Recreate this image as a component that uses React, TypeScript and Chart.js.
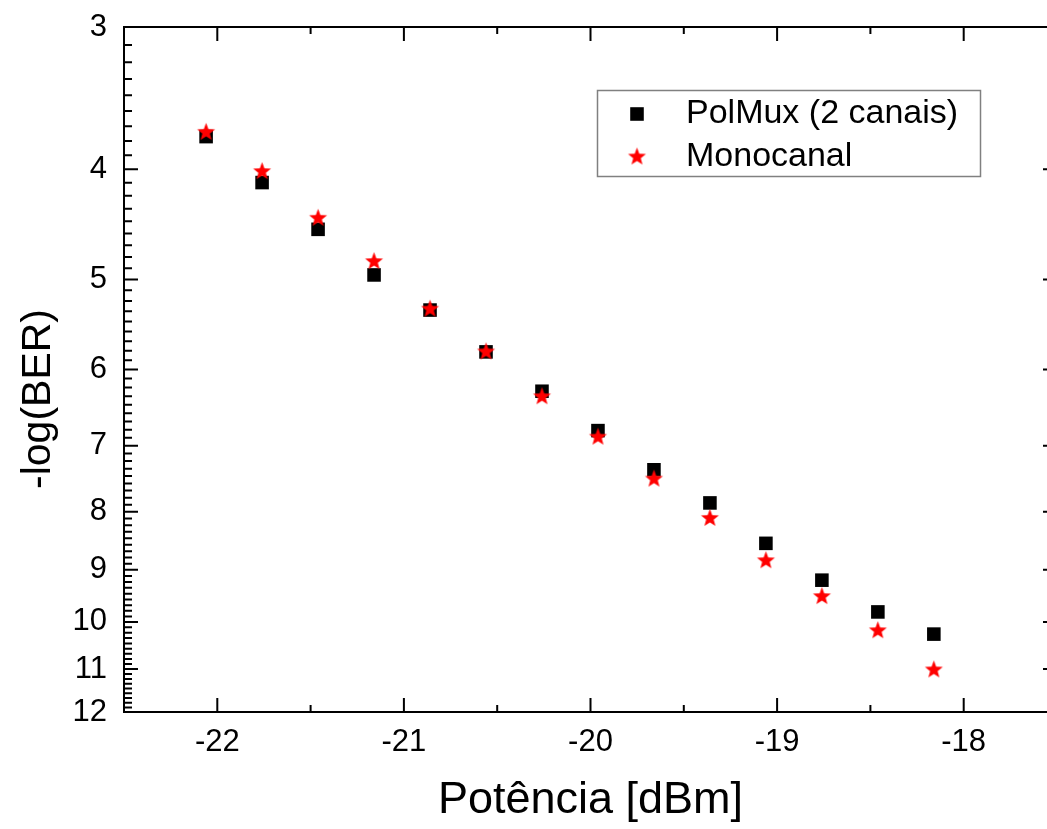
import React, { useEffect, useRef } from "react";
import { Chart, registerables } from "chart.js";

Chart.register(...registerables);

// ---- data ----
const POWER_DBM = [-22.06, -21.76, -21.46, -21.16, -20.86, -20.56, -20.26, -19.96, -19.66, -19.36, -19.06, -18.76, -18.46, -18.16];
const POLMUX = [3.745, 4.11, 4.518, 4.955, 5.32, 5.79, 6.27, 6.79, 7.35, 7.86, 8.53, 9.19, 9.8, 10.25];
const MONOCANAL = [3.713, 4.02, 4.418, 4.823, 5.31, 5.79, 6.34, 6.88, 7.49, 8.11, 8.835, 9.5, 10.18, 11.02];
const SERIES_LABELS = ["PolMux (2 canais)", "Monocanal"];
const X_TICKS = [-22, -21, -20, -19, -18];
const Y_TICKS = [3, 4, 5, 6, 7, 8, 9, 10, 11, 12];
const X_RANGE = [-22.5, -17.5];
const Y_RANGE = [3, 12];
const Y_MINOR_PER_MAJOR = 8;
const X_TITLE = "Potência [dBm]";
const Y_TITLE = "-log(BER)";

const FONT = "'Liberation Sans', Arial, Helvetica, sans-serif";
const CANVAS_W = 1080;
const CANVAS_H = 829;

function makeStar(R: number, color: string): HTMLCanvasElement {
  const size = Math.ceil(R * 2 + 4);
  const c = document.createElement("canvas");
  c.width = size;
  c.height = size;
  const g = c.getContext("2d")!;
  const cx = size / 2;
  const cy = size / 2;
  const r = R * 0.42;
  g.beginPath();
  for (let i = 0; i < 10; i++) {
    const ang = -Math.PI / 2 + (i * Math.PI) / 5;
    const rad = i % 2 === 0 ? R : r;
    const x = cx + rad * Math.cos(ang);
    const y = cy + rad * Math.sin(ang);
    if (i === 0) g.moveTo(x, y);
    else g.lineTo(x, y);
  }
  g.closePath();
  g.fillStyle = color;
  g.fill();
  return c;
}

export default function App() {
  const ref = useRef<HTMLCanvasElement | null>(null);

  useEffect(() => {
    if (!ref.current) return;
    const star = makeStar(9.4, "#ff0000");
    const SQUARE_R = 9.6;

    const framePlugin = {
      id: "frameTicksLegend",
      afterDraw(chart: any) {
        const { ctx, chartArea: a, scales } = chart;
        const xs = scales.x;
        const ys = scales.y;
        ctx.save();
        ctx.strokeStyle = "#000";
        ctx.lineWidth = 2;
        ctx.strokeRect(a.left, a.top, a.right - a.left, a.bottom - a.top);

        ctx.beginPath();
        // x major ticks (bottom and top), inward
        X_TICKS.forEach((v) => {
          const p = xs.getPixelForValue(v);
          ctx.moveTo(p, a.bottom);
          ctx.lineTo(p, a.bottom - 14);
          ctx.moveTo(p, a.top);
          ctx.lineTo(p, a.top + 14);
        });
        // x minor ticks
        for (let i = 0; i < X_TICKS.length - 1; i++) {
          const p = xs.getPixelForValue((X_TICKS[i] + X_TICKS[i + 1]) / 2);
          ctx.moveTo(p, a.bottom);
          ctx.lineTo(p, a.bottom - 7);
          ctx.moveTo(p, a.top);
          ctx.lineTo(p, a.top + 7);
        }
        // y major ticks (left and right)
        Y_TICKS.forEach((v) => {
          const p = ys.getPixelForValue(v);
          ctx.moveTo(a.left, p);
          ctx.lineTo(a.left + 14, p);
          ctx.moveTo(a.right, p);
          ctx.lineTo(a.right - 14, p);
        });
        // y minor ticks
        for (let i = 0; i < Y_TICKS.length - 1; i++) {
          const step = (Y_TICKS[i + 1] - Y_TICKS[i]) / (Y_MINOR_PER_MAJOR + 1);
          for (let k = 1; k <= Y_MINOR_PER_MAJOR; k++) {
            const p = ys.getPixelForValue(Y_TICKS[i] + k * step);
            ctx.moveTo(a.left, p);
            ctx.lineTo(a.left + 8, p);
            ctx.moveTo(a.right, p);
            ctx.lineTo(a.right - 8, p);
          }
        }
        ctx.lineWidth = 2;
        ctx.stroke();

        // y title
        ctx.save();
        ctx.translate(50, 399);
        ctx.rotate(-Math.PI / 2);
        ctx.font = `41px ${FONT}`;
        ctx.fillStyle = "#000";
        ctx.textAlign = "center";
        ctx.textBaseline = "alphabetic";
        ctx.fillText(Y_TITLE, 0, 0);
        ctx.restore();

        // legend
        const bx = 597.5, by = 90.5, bw = 383, bh = 86;
        ctx.fillStyle = "#fff";
        ctx.fillRect(bx, by, bw, bh);
        ctx.strokeStyle = "#808080";
        ctx.lineWidth = 1.5;
        ctx.strokeRect(bx, by, bw, bh);
        const ds = chart.data.datasets;
        const mx = 637;
        const rows = [114, 157];
        const s = SQUARE_R * Math.SQRT1_2;
        ctx.fillStyle = "#000";
        ctx.fillRect(mx - s, rows[0] - s, 2 * s, 2 * s);
        ctx.drawImage(star, mx - star.width / 2, rows[1] - star.height / 2);
        ctx.font = `34px ${FONT}`;
        ctx.fillStyle = "#000";
        ctx.textAlign = "left";
        ctx.textBaseline = "middle";
        ctx.fillText(ds[0].label, 686, rows[0]);
        ctx.fillText(ds[1].label, 686, rows[1]);
        ctx.restore();
      },
    };

    const chart = new Chart(ref.current, {
      type: "scatter",
      data: {
        datasets: [
          {
            label: SERIES_LABELS[0],
            data: POWER_DBM.map((x, i) => ({ x, y: POLMUX[i] })),
            pointStyle: "rect",
            pointRadius: SQUARE_R,
            pointHoverRadius: SQUARE_R,
            backgroundColor: "#000",
            borderColor: "#000",
            borderWidth: 0,
            showLine: false,
            order: 1,
          },
          {
            label: SERIES_LABELS[1],
            data: POWER_DBM.map((x, i) => ({ x, y: MONOCANAL[i] })),
            pointStyle: star,
            pointRadius: 9,
            pointHoverRadius: 9,
            backgroundColor: "#ff0000",
            borderColor: "#ff0000",
            borderWidth: 0,
            showLine: false,
            order: 0,
          },
        ],
      },
      options: {
        animation: false,
        responsive: false,
        devicePixelRatio: 1,
        layout: { padding: { top: 27, right: CANVAS_W - 1057, left: 0, bottom: 0 } },
        plugins: {
          legend: { display: false },
          tooltip: { enabled: false },
        },
        scales: {
          x: {
            type: "linear",
            min: X_RANGE[0],
            max: X_RANGE[1],
            afterBuildTicks: (scale: any) => {
              scale.ticks = X_TICKS.map((v) => ({ value: v }));
            },
            afterFit: (scale: any) => {
              scale.height = CANVAS_H - 712;
            },
            grid: { display: false, drawTicks: true, tickLength: 12 },
            border: { display: false },
            ticks: {
              autoSkip: false,
              maxRotation: 0,
              padding: 0,
              color: "#000",
              font: { family: FONT, size: 31 },
              callback: (v: any) => String(v),
            },
            title: {
              display: true,
              text: X_TITLE,
              color: "#000",
              font: { family: FONT, size: 45 },
              padding: { top: 0, bottom: 1 },
            },
          },
          y: {
            type: "logarithmic",
            reverse: true,
            min: Y_RANGE[0],
            max: Y_RANGE[1],
            afterBuildTicks: (scale: any) => {
              scale.ticks = Y_TICKS.map((v) => ({ value: v, major: false }));
            },
            afterFit: (scale: any) => {
              scale.width = 124;
            },
            grid: { display: false, drawTicks: true, tickLength: 17 },
            border: { display: false },
            ticks: {
              autoSkip: false,
              padding: 0,
              color: "#000",
              font: { family: FONT, size: 31 },
              callback: (v: any) => String(v),
            },
          },
        },
      },
      plugins: [framePlugin],
    } as any);

    return () => chart.destroy();
  }, []);

  return (
    <div
      style={{
        position: "fixed",
        left: 0,
        top: 0,
        width: 1047,
        height: 829,
        overflow: "hidden",
        background: "#fff",
      }}
    >
      <canvas
        ref={ref}
        width={CANVAS_W}
        height={CANVAS_H}
        style={{ display: "block", width: CANVAS_W, height: CANVAS_H }}
      />
    </div>
  );
}
